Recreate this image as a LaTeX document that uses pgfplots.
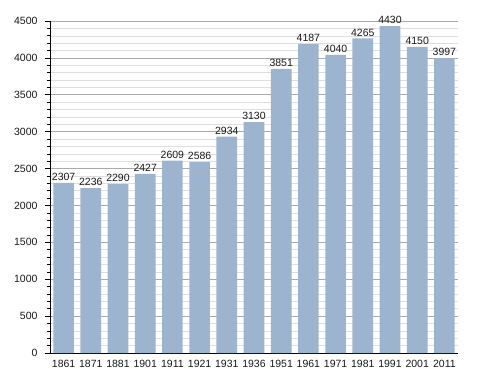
\documentclass[border=0pt]{standalone}
\usepackage{fontspec}
\setmainfont{Liberation Sans}
\usepackage{pgfplots}
\pgfplotsset{compat=1.18}
\definecolor{barfill}{RGB}{157,180,207}
\definecolor{majgrid}{RGB}{170,170,170}
\definecolor{mingrid}{RGB}{222,222,222}
\begin{document}
\begin{tikzpicture}[x=1pt,y=1pt]
\useasboundingbox (0,0) rectangle (488,373);
\begin{axis}[
  at={(50pt,20pt)}, anchor=south west,
  scale only axis, width=408pt, height=332pt,
  xmin=-0.5, xmax=14.5, ymin=0, ymax=4500,
  axis x line*=bottom, axis y line*=left,
  axis line style={black, line width=0.8pt, -},
  xtick=data,
  xticklabels={1861,1871,1881,1901,1911,1921,1931,1936,1951,1961,1971,1981,1991,2001,2011},
  x tick style={draw=none},
  ytick={0,500,...,4500},
  minor y tick num=4,
  y tick style={black, line width=0.6pt},
  major tick length=5pt, minor tick length=3pt,
  tick align=outside,
  ymajorgrids, yminorgrids,
  major grid style={majgrid, line width=0.6pt},
  minor grid style={mingrid, line width=0.5pt},
  ticklabel style={font=\fontsize{10.5}{12}\selectfont, text=black!90},
  /pgf/number format/assume math mode=true,
  /pgf/number format/1000 sep={},
  yticklabel style={xshift=-4pt},
  xticklabel style={yshift=1pt},
  ybar, bar width=0.76, bar shift=0pt,
  nodes near coords,
  nodes near coords style={font=\fontsize{10.5}{12}\selectfont, text=black!90, inner sep=2pt},
  clip=false,
]
\addplot[fill=barfill, draw=none] coordinates {
(0,2307) (1,2236) (2,2290) (3,2427) (4,2609) (5,2586) (6,2934) (7,3130)
(8,3851) (9,4187) (10,4040) (11,4265) (12,4430) (13,4150) (14,3997)};
\end{axis}
\end{tikzpicture}
\end{document}
